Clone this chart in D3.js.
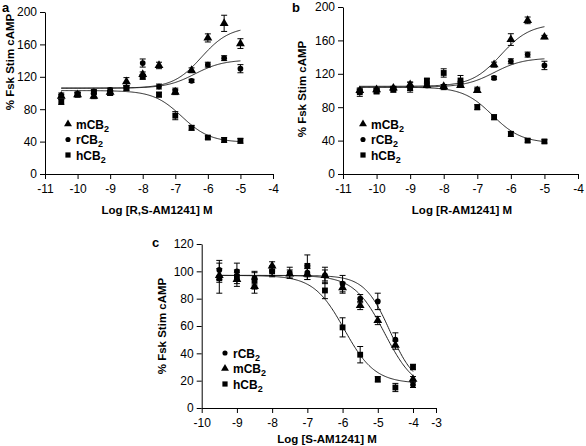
<!DOCTYPE html>
<html><head><meta charset="utf-8">
<script src="https://cdn.jsdelivr.net/npm/d3@7"></script>
<style>
html,body{margin:0;padding:0;background:#fff;}
svg{display:block;font-family:"Liberation Sans",Arial,sans-serif;}
</style></head>
<body><svg id="chart" width="586" height="446"></svg>
<script>
// ---------------- DATA ----------------
// Panel a: R,S-AM1241
const dosesA = [-10.5,-10,-9.5,-9,-8.5,-8,-7.5,-7,-6.5,-6,-5.5,-5];
const aMouse = [96,98,96,101,114,123,134,101,128,168,186,161];
const aRat   = [97,99,102,104,107,137,108,103,115,135,143,130];
const aHuman = [89,98,101,100,106,120,98,72,57,45,42,41];
const aMouseErr = [2,2,3,2,5,3,4,3,3,5,10,6];
const aRatErr   = [3,2,2,2,2,5,3,3,2,3,3,5];
const aHumanErr = [3,3,2,3,3,3,3,5,3,2,3,3];
// fit parameters [bottom, top, logEC50, hill]
const aMouseFit = [106,182,-6.2,1];
const aRatFit   = [106,141,-6.4,1];
const aHumanFit = [39,103,-6.8,-1];

// Panel b: R-AM1241
const dosesB = [-10.5,-10,-9.5,-9,-8.5,-8,-7.5,-7,-6.5,-6,-5.5,-5];
const bMouse = [100,101,103,107,106,105,106,100,131,161,184,164];
const bRat   = [99,100,102,104,106,104,108,101,115,135,143,130];
const bHuman = [98,99,101,103,112,121,112,80,68,48,40,39];
const bMouseErr = [2,2,2,3,2,2,2,2,3,7,4,2];
const bRatErr   = [2,2,2,6,2,3,3,3,2,3,3,5];
const bHumanErr = [5,3,3,3,2,5,6,3,3,3,2,2];
const bMouseFit = [105,180,-6.3,1];
const bRatFit   = [104,139,-6.5,1];
const bHumanFit = [37,104,-6.55,-1];

// Panel c: S-AM1241
const dosesC = [-9.5,-9,-8.5,-8,-7.5,-7,-6.5,-6,-5.5,-5,-4.5,-4];
const cRat   = [101,100,95,100,99,99,97,91,80,78,50,17];
const cMouse = [97,94,89,104,98,98,97,88,75,64,46,21];
const cHuman = [95,96,93,100,null,104,86,59,39,21,15,30];
const cRatErr   = [7,6,5,3,4,5,6,6,3,6,5,2];
const cMouseErr = [5,5,5,3,3,4,4,4,3,3,3,2];
const cHumanErr = [11,5,6,4,0,8,6,7,6,2,3,2];
const cRatFit   = [15,97,-4.65,-1.2];
const cMouseFit = [12,97,-4.8,-1];
const cHumanFit = [18,97,-5.95,-1];

const ticksA = [-11,-10,-9,-8,-7,-6,-5,-4];
const ticksC = [-10,-9,-8,-7,-6,-5,-4,-3];
const yTicksAB = [0,40,80,120,160,200];
const yTicksC = [0,20,40,60,80,100,120];

// ---------------- DRAW ----------------
const svg = d3.select("#chart");
svg.append("rect").attr("width",586).attr("height",446).attr("fill","#fff");

const symType = {tri:d3.symbolTriangle, cir:d3.symbolCircle, sq:d3.symbolSquare};
const symSize = {tri:34, cir:26, sq:34};
const fmt = d => String(d);

function logistic(p, x){
  const [bot, top, ec, h] = p;
  return bot + (top - bot) / (1 + Math.pow(10, (ec - x) * h));
}

function panel(cfg){
  const g = svg.append("g");
  const x = d3.scaleLinear().domain(cfg.xDom).range(cfg.xRange);
  const y = d3.scaleLinear().domain(cfg.yDom).range(cfg.yRange);

  const ya = g.append("g").attr("transform",`translate(${cfg.xRange[0]},0)`)
    .call(d3.axisLeft(y).tickValues(cfg.yTicks).tickFormat(fmt).tickSize(5).tickSizeOuter(0).tickPadding(3));
  const xa = g.append("g").attr("transform",`translate(0,${cfg.yRange[0]})`)
    .call(d3.axisBottom(x).tickValues(cfg.xTicks).tickFormat(fmt).tickSize(5).tickSizeOuter(0).tickPadding(5));
  [ya, xa].forEach(a=>{
    a.selectAll("path,line").attr("stroke","#000").attr("stroke-width",1);
    a.selectAll("text").attr("fill","#000").attr("font-size","12px")
      .attr("font-family","'Liberation Sans',Arial,sans-serif");
  });

  // curves
  const line = d3.line().x(d=>x(d[0])).y(d=>y(d[1]));
  cfg.series.forEach(s=>{
    const pts = d3.range(cfg.fitRange[0], cfg.fitRange[1]+0.001, 0.025).map(v=>[v, logistic(s.fit, v)]);
    g.append("path").attr("d", line(pts)).attr("fill","none")
      .attr("stroke","#222").attr("stroke-width",1);
  });

  // error bars & markers
  cfg.series.forEach(s=>{
    const data = cfg.doses.map((d,i)=>({d, v:s.vals[i], e:s.errs[i]})).filter(o=>o.v!=null);
    const eb = g.append("g").attr("stroke","#000").attr("stroke-width",1);
    data.filter(o=>o.e>0).forEach(o=>{
      const cx = x(o.d), y1 = y(o.v+o.e), y2 = y(o.v-o.e);
      eb.append("line").attr("x1",cx).attr("x2",cx).attr("y1",y1).attr("y2",y2);
      eb.append("line").attr("x1",cx-3).attr("x2",cx+3).attr("y1",y1).attr("y2",y1);
      eb.append("line").attr("x1",cx-3).attr("x2",cx+3).attr("y1",y2).attr("y2",y2);
    });
    g.append("g").selectAll("path").data(data).join("path")
      .attr("d", d3.symbol().type(symType[s.sym]).size(symSize[s.sym]))
      .attr("transform", o=>`translate(${x(o.d)},${y(o.v)})`)
      .attr("fill","#000");
  });

  // legend
  cfg.series.forEach((s,i)=>{
    const ly = cfg.legend[1] + i*15.5;
    g.append("path").attr("d", d3.symbol().type(symType[s.sym]).size(symSize[s.sym]*0.8)())
      .attr("transform",`translate(${cfg.legend[0]},${ly})`).attr("fill","#000");
    const t = g.append("text").attr("x",cfg.legend[0]+8).attr("y",ly+4.5)
      .attr("font-size","12px").attr("font-weight","bold").attr("fill","#000");
    t.append("tspan").text(s.name[0]+"CB");
    t.append("tspan").attr("dy",3).attr("font-size","9px").text("2");
  });

  // titles
  g.append("text").attr("x",(cfg.xTitle[0])).attr("y",cfg.xTitle[1]).attr("text-anchor","middle")
    .attr("font-size","11.5px").attr("font-weight","bold").text(cfg.xLabel);
  g.append("text").attr("transform",`translate(${cfg.yTitle[0]},${cfg.yTitle[1]}) rotate(-90)`)
    .attr("text-anchor","middle").attr("font-size","11.5px").attr("font-weight","bold")
    .text("% Fsk Stim cAMP");
  g.append("text").attr("x",cfg.letter[0]).attr("y",cfg.letter[1])
    .attr("font-size","13px").attr("font-weight","bold").text(cfg.letterText);
}

panel({
  xDom:[-11,-4], xRange:[45,273], yDom:[0,200], yRange:[174,12],
  xTicks:ticksA, yTicks:yTicksAB, doses:dosesA, fitRange:[-10.5,-5],
  series:[
    {name:"mCB2", sym:"tri", vals:aMouse, errs:aMouseErr, fit:aMouseFit},
    {name:"rCB2", sym:"cir", vals:aRat, errs:aRatErr, fit:aRatFit},
    {name:"hCB2", sym:"sq", vals:aHuman, errs:aHumanErr, fit:aHumanFit}
  ],
  legend:[68,124], xTitle:[157,214], yTitle:[14,62], xLabel:"Log [R,S-AM1241] M",
  letter:[2,12], letterText:"a"
});

panel({
  xDom:[-11,-4], xRange:[343,578], yDom:[0,200], yRange:[174,7],
  xTicks:ticksA, yTicks:yTicksAB, doses:dosesB, fitRange:[-10.5,-5],
  series:[
    {name:"mCB2", sym:"tri", vals:bMouse, errs:bMouseErr, fit:bMouseFit},
    {name:"rCB2", sym:"cir", vals:bRat, errs:bRatErr, fit:bRatFit},
    {name:"hCB2", sym:"sq", vals:bHuman, errs:bHumanErr, fit:bHumanFit}
  ],
  legend:[363,124], xTitle:[462,214], yTitle:[306,89], xLabel:"Log [R-AM1241] M",
  letter:[292,12], letterText:"b"
});

// panel c: axis drawn piecewise to match the reference's shortened last interval
panel({
  xDom:[-10,-4,-3], xRange:[201.7,413,436], yDom:[0,120], yRange:[408,244],
  xTicks:ticksC, yTicks:yTicksC, doses:dosesC, fitRange:[-9.5,-4],
  series:[
    {name:"rCB2", sym:"cir", vals:cRat, errs:cRatErr, fit:cRatFit},
    {name:"mCB2", sym:"tri", vals:cMouse, errs:cMouseErr, fit:cMouseFit},
    {name:"hCB2", sym:"sq", vals:cHuman, errs:cHumanErr, fit:cHumanFit}
  ],
  legend:[225,353], xTitle:[327,443], yTitle:[166,326], xLabel:"Log [S-AM1241] M",
  letter:[152,247], letterText:"c"
});
</script></body></html>
